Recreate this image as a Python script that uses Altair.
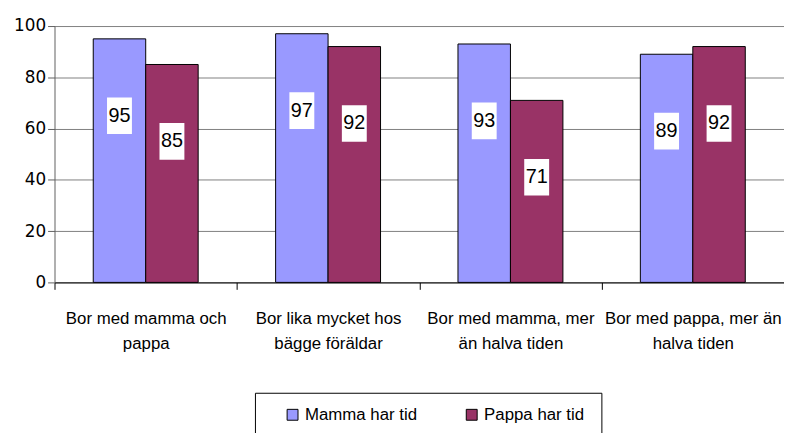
import altair as alt
import pandas as pd

categories = [
    "Bor med mamma och\npappa",
    "Bor lika mycket hos\nbägge föräldar",
    "Bor med mamma, mer\nän halva tiden",
    "Bor med pappa, mer än\nhalva tiden",
]
series = ["Mamma har tid", "Pappa har tid"]
mamma = [95, 97, 93, 89]
pappa = [85, 92, 71, 92]
colors = ["#9999FF", "#993366"]

rows = []
for i, c in enumerate(categories):
    rows.append({"cat": c, "serie": series[0], "value": mamma[i]})
    rows.append({"cat": c, "serie": series[1], "value": pappa[i]})
df = pd.DataFrame(rows)

TXT = "Liberation Sans, Arial, sans-serif"
NUM = "DejaVu Sans, sans-serif"

x_enc = alt.X(
    "cat:N",
    sort=categories,
    scale=alt.Scale(paddingInner=0, paddingOuter=0),
    axis=alt.Axis(
        title=None,
        labelAngle=0,
        labelExpr="split(datum.label, '\\n')",
        labelFont=TXT,
        labelFontSize=17,
        labelColor="#000000",
        labelLineHeight=25,
        labelPadding=22,
        labelLimit=0,
        tickBand="extent",
        tickSize=7,
        tickColor="#000000",
        domainColor="#000000",
        grid=False,
    ),
)
xo_enc = alt.XOffset(
    "serie:N", sort=series, scale=alt.Scale(paddingInner=0, paddingOuter=0.738)
)

bars = alt.Chart(df).mark_bar(stroke="#000000", strokeWidth=1).encode(
    x=x_enc,
    xOffset=xo_enc,
    y=alt.Y(
        "value:Q",
        scale=alt.Scale(domain=[0, 100], nice=False),
        axis=alt.Axis(
            title=None,
            values=[0, 20, 40, 60, 80, 100],
            labelFont=NUM,
            labelFontSize=17,
            labelColor="#000000",
            labelPadding=2,
            tickSize=7,
            tickColor="#606060",
            domainColor="#606060",
            gridColor="#808080",
            gridWidth=1,
        ),
    ),
    color=alt.Color(
        "serie:N",
        sort=series,
        scale=alt.Scale(domain=series, range=colors),
        legend=alt.Legend(
            title=None,
            orient="none",
            direction="horizontal",
            legendX=232,
            legendY=384,
            symbolType="square",
            symbolSize=121,
            symbolStrokeColor="#000000",
            symbolStrokeWidth=1,
            symbolOpacity=1,
            labelFont=TXT,
            labelFontSize=17,
            labelColor="#000000",
            labelOffset=4,
            labelLimit=0,
            columnPadding=46,
            padding=0,
        ),
    ),
)

legend_box = alt.Chart(df).mark_rect(
    fill="#FFFFFF", stroke="#000000", strokeWidth=1
).encode(
    x=alt.value(203), x2=alt.value(553), y=alt.value(371), y2=alt.value(460)
).transform_filter("datum.cat == '" + categories[0].replace("\n", "\\n") + "' && datum.serie == '" + series[0] + "'")

label_base = alt.Chart(df).transform_calculate(pos="datum.value - 30")

boxes = label_base.mark_point(
    filled=True,
    shape="M-0.68,-1L0.68,-1L0.68,1L-0.68,1Z",
    size=1369,
    color="#FFFFFF",
    opacity=1,
    strokeWidth=0,
).encode(
    x=alt.X("cat:N", sort=categories),
    xOffset=alt.XOffset("serie:N", sort=series),
    y=alt.Y("pos:Q"),
)

texts = label_base.mark_text(
    font=TXT, fontSize=20, color="#000000", baseline="middle", align="center"
).encode(
    x=alt.X("cat:N", sort=categories),
    xOffset=alt.XOffset("serie:N", sort=series),
    y=alt.Y("pos:Q"),
    text=alt.Text("value:Q"),
)

chart = (
    alt.layer(legend_box, bars, boxes, texts)
    .properties(
        width=737,
        height=259,
        autosize=alt.AutoSizeParams(type="none"),
        padding={"left": 47, "top": 16, "right": 0, "bottom": 158},
        background="#FFFFFF",
    )
    .configure_view(stroke=None)
    .configure_axis(grid=False)
    .configure_axisY(grid=True)
)

chart.save("out.html", embed_options={"renderer": "svg", "actions": False})
